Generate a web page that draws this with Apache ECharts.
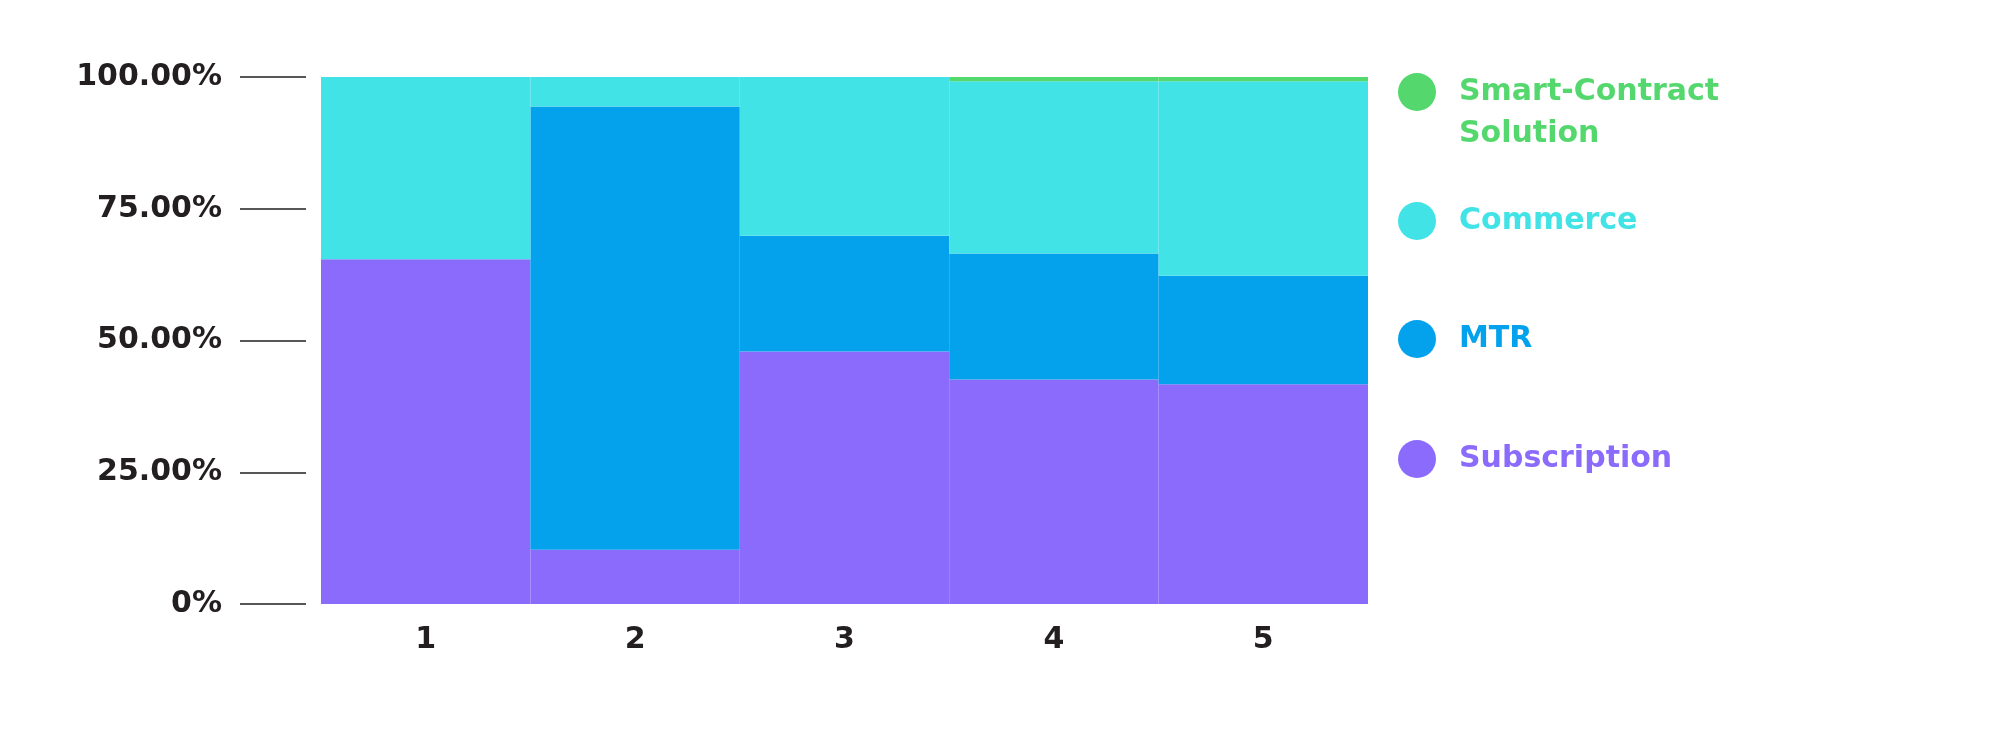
<!DOCTYPE html>
<html>
<head>
<meta charset="utf-8">
<script src="https://cdn.jsdelivr.net/npm/echarts@6/dist/echarts.min.js"></script>
<style>html,body{margin:0;padding:0;background:#fff;}#chart{width:2000px;height:738px;}</style>
</head>
<body>
<div id="chart"></div>
<script>
const categories = ['1', '2', '3', '4', '5'];
const subscription = [65.4, 10.3, 47.9, 42.6, 41.7];
const mtr = [0, 84.1, 22.0, 23.9, 20.6];
const commerce = [34.6, 5.6, 30.1, 32.7, 36.9];
const smartContract = [0, 0, 0, 0.8, 0.8];
const yTickLabels = ['0%', '25.00%', '50.00%', '75.00%', '100.00%'];
const seriesNames = ['Subscription', 'MTR', 'Commerce', 'Smart-Contract Solution'];
const colors = ['#8B6BFC', '#04A1EC', '#42E3E6', '#54D86E'];

const FONT = 'DejaVu Sans';
const labelStyle = { fontFamily: FONT, fontWeight: 'bold', fontSize: 30, color: '#231F20' };

const chart = echarts.init(document.getElementById('chart'), null, { renderer: 'canvas' });

function legendFor(i, top, extra) {
  return Object.assign({
    show: true,
    data: [seriesNames[i]],
    left: 1398,
    top: top,
    padding: 0,
    orient: 'vertical',
    icon: 'circle',
    itemWidth: 38,
    itemHeight: 38,
    selectedMode: false,
    itemStyle: { borderWidth: 0 },
    textStyle: {
      fontFamily: FONT, fontWeight: 'bold', fontSize: 30,
      color: colors[i], lineHeight: 38, padding: [0, 0, 0, 18]
    }
  }, extra || {});
}

const legends = [
  legendFor(3, 71, {
    icon: 'path://M19,0 A19,19 0 1,1 18.99,0 Z M19,80 L19.001,80 Z',
    itemHeight: 80,
    formatter: function () { return 'Smart-Contract\nSolution'; },
    textStyle: {
      fontFamily: FONT, fontWeight: 'bold', fontSize: 30,
      color: colors[3], lineHeight: 42, padding: [0, 0, 0, 18]
    }
  }),
  legendFor(2, 202),
  legendFor(1, 320),
  legendFor(0, 440)
];

const dataSets = [subscription, mtr, commerce, smartContract];

const option = {
  backgroundColor: '#ffffff',
  animation: false,
  color: colors,
  legend: legends,
  grid: { left: 321, right: 632, top: 77, bottom: 134, containLabel: false },
  xAxis: {
    type: 'category',
    data: categories,
    axisLine: { show: false },
    axisTick: { show: false },
    axisLabel: Object.assign({ margin: 21 }, labelStyle),
    splitLine: { show: false }
  },
  yAxis: {
    type: 'value',
    min: 0,
    max: 100,
    interval: 25,
    offset: 15,
    axisLine: { show: false },
    axisTick: { show: true, length: 66, lineStyle: { color: '#231F20', width: 1.5 } },
    splitLine: { show: false },
    axisLabel: Object.assign({
      margin: 84,
      formatter: function (v) { return yTickLabels[Math.round(v / 25)]; }
    }, labelStyle)
  },
  series: dataSets.map(function (arr, i) {
    return {
      name: seriesNames[i],
      type: 'bar',
      stack: 'total',
      barCategoryGap: '0%',
      barWidth: '100%',
      data: arr,
      itemStyle: { color: colors[i] },
      emphasis: { disabled: true }
    };
  })
};

chart.setOption(option);
</script>
</body>
</html>
